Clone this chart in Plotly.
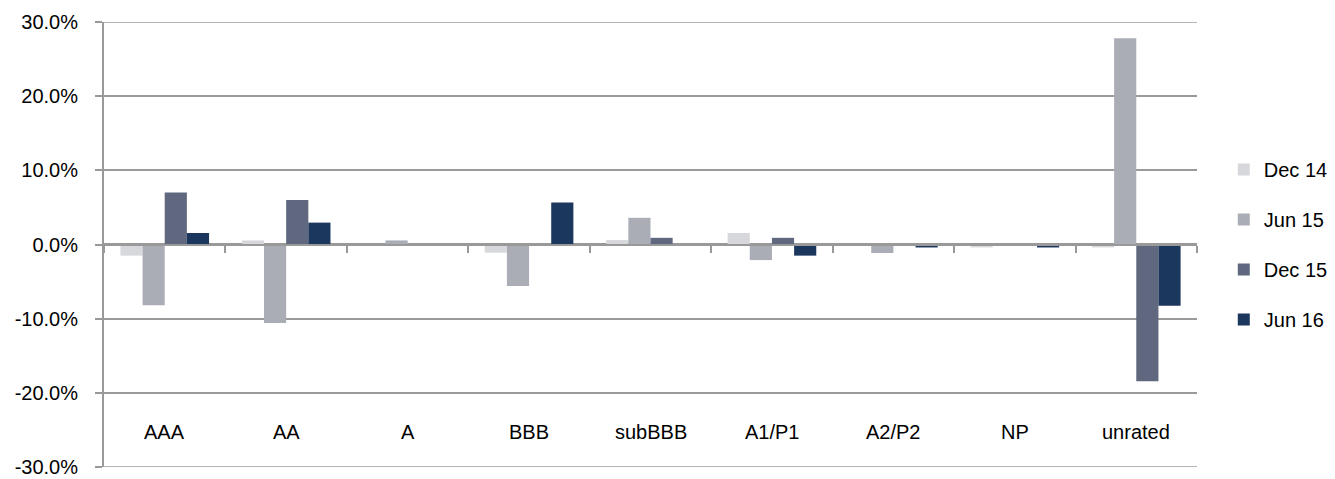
import plotly.graph_objects as go

categories = ["AAA", "AA", "A", "BBB", "subBBB", "A1/P1", "A2/P2", "NP", "unrated"]
series_names = ["Dec 14", "Jun 15", "Dec 15", "Jun 16"]
dec14 = [-1.5, 0.55, 0.0, -1.1, 0.6, 1.55, 0.0, -0.4, -0.4]
jun15 = [-8.2, -10.6, 0.55, -5.6, 3.6, -2.1, -1.15, 0.0, 27.8]
dec15 = [7.0, 6.0, 0.0, 0.0, 0.9, 0.9, 0.0, 0.0, -18.45]
jun16 = [1.55, 2.95, 0.0, 5.65, 0.0, -1.5, -0.4, -0.4, -8.25]
y_ticks = [-30, -20, -10, 0, 10, 20, 30]

colors = ["#d7d8dc", "#aaadb6", "#5f687e", "#1c375e"]
FONT = "Liberation Sans, Arial, Helvetica, sans-serif"
GRID = "#9a9a9a"

fig = go.Figure()
for i, (name, vals) in enumerate(zip(series_names, [dec14, jun15, dec15, jun16])):
    fig.add_trace(go.Bar(
        x=categories, y=vals, name=name,
        marker=dict(color=colors[i], line=dict(width=0)),
        legendgroup=name,
    ))

for c in categories:
    fig.add_annotation(x=c, y=-25.3, xref="x", yref="y", text=c, showarrow=False,
                       font=dict(size=20, color="#000000", family=FONT),
                       xanchor="center", yanchor="middle")

# gridlines at the range edges (plotly omits them)
for yv in (y_ticks[0], y_ticks[-1]):
    fig.add_shape(type="line", xref="paper", yref="y", x0=0, x1=1, y0=yv, y1=yv,
                  line=dict(color=GRID, width=1.5), layer="below")

fig.update_layout(
    width=1335, height=479,
    margin=dict(l=104, r=138, t=22, b=12, autoexpand=False),
    paper_bgcolor="white", plot_bgcolor="white",
    barmode="group", bargap=0.27, bargroupgap=0,
    font=dict(family=FONT, size=20, color="#000000"),
    legend=dict(x=1.0245, y=0.5, xanchor="left", yanchor="middle",
                font=dict(size=20, family=FONT), tracegroupgap=21,
                bgcolor="rgba(0,0,0,0)", borderwidth=0),
    xaxis=dict(anchor="free", position=0.5, showline=True, linecolor="#999999",
               linewidth=2, showgrid=False, automargin=False,
               ticks="outside", ticklen=7, tickwidth=2, tickcolor="#999999",
               tickson="boundaries", showticklabels=False, zeroline=False),
    yaxis=dict(range=[-30, 30], tickvals=y_ticks, automargin=False,
               ticktext=[f"{v:.1f}%" for v in y_ticks],
               showgrid=True, gridcolor=GRID, gridwidth=1.5,
               zeroline=True, zerolinecolor="#999999", zerolinewidth=2.5,
               showline=True, linecolor="#999999", linewidth=2,
               ticks="outside", ticklen=7, tickwidth=2, tickcolor="#999999",
               ticklabelstandoff=13,
               tickfont=dict(size=20, family=FONT, color="#000000")),
)

fig.write_html("out.html")
